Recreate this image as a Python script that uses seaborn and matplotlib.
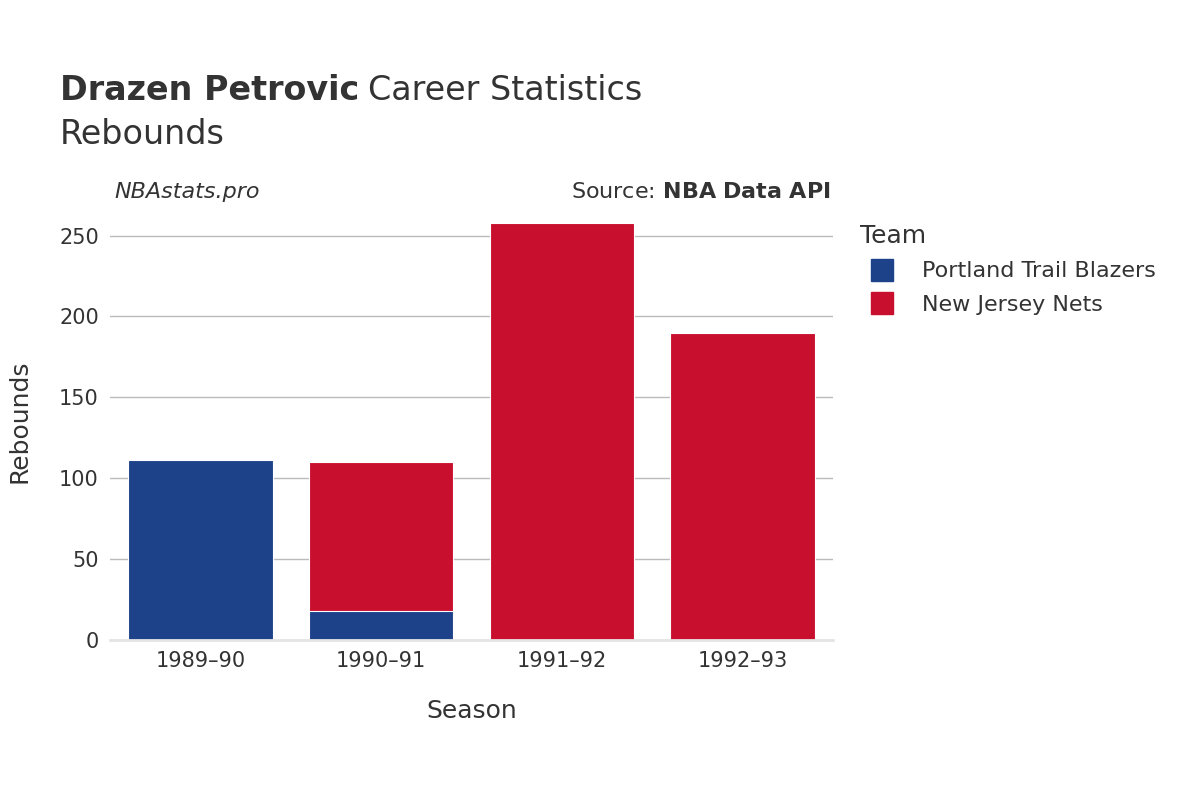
import pandas as pd
import matplotlib
matplotlib.use("Agg")
import matplotlib.pyplot as plt
from matplotlib.lines import Line2D
import seaborn as sns

seasons = ["1989\u201390", "1990\u201391", "1991\u201392", "1992\u201393"]
portland = [111, 18, 0, 0]
nets = [0, 92, 258, 190]
teams = ["Portland Trail Blazers", "New Jersey Nets"]
colors = ["#1d428a", "#c8102e"]

df = pd.DataFrame({"season": seasons, "portland": portland, "nets": nets})
df["total"] = df["portland"] + df["nets"]
df["red_top"] = df["total"].where(df["nets"] > 0, 0)

plt.rcParams["font.family"] = "DejaVu Sans"
fig = plt.figure(figsize=(12, 8), dpi=100)
ax = fig.add_axes([0.0917, 0.2, 0.6025, 0.546])

# stacked: draw totals in red, then Portland on top from zero
sns.barplot(data=df, x="season", y="red_top", color=colors[1], width=0.8,
            saturation=1, ax=ax, edgecolor="white", linewidth=0.8)
sns.barplot(data=df, x="season", y="portland", color=colors[0], width=0.8,
            saturation=1, ax=ax, edgecolor="white", linewidth=0.8)

ax.set_ylim(0, 270)
ax.set_yticks([0, 50, 100, 150, 200, 250])
ax.yaxis.grid(True, color="#bbbbbb", linewidth=1)
ax.set_axisbelow(True)
for s in ["top", "right", "left"]:
    ax.spines[s].set_visible(False)
ax.spines["bottom"].set_color("#e5e5e5")
ax.spines["bottom"].set_linewidth(2)
ax.tick_params(length=0, labelsize=15, colors="#333333", pad=8)
ax.set_xlabel("Season", fontsize=18, color="#333333", labelpad=20)
ax.set_ylabel("Rebounds", fontsize=18, color="#333333", labelpad=20)

fig.text(0.05, 0.875, "Drazen Petrovic", fontsize=24, fontweight="bold", color="#333333")
fig.text(0.307, 0.875, "Career Statistics", fontsize=24, color="#333333")
fig.text(0.05, 0.82, "Rebounds", fontsize=24, color="#333333")
fig.text(0.095, 0.752, "NBAstats.pro", fontsize=16, style="italic", color="#333333")
fig.text(0.692, 0.752, "Source: $\\bf{NBA\\ Data\\ API}$", fontsize=16, color="#333333", ha="right")

handles = [Line2D([], [], marker="s", linestyle="", markersize=16, color=c) for c in colors]
leg = fig.legend(handles, teams, loc="upper left", bbox_to_anchor=(0.7, 0.745),
                 frameon=False, fontsize=16, title="Team", title_fontsize=18,
                 labelcolor="#333333", handletextpad=0.8, labelspacing=0.6)
leg._legend_box.align = "left"
leg.get_title().set_color("#333333")

fig.savefig("out.png", dpi=100)
